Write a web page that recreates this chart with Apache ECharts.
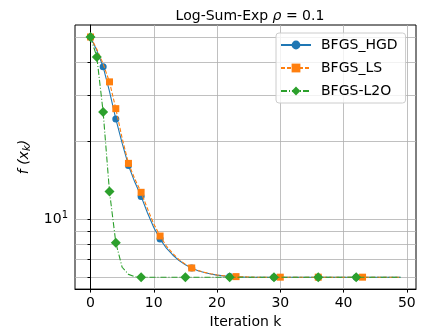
<!DOCTYPE html>
<html>
<head>
<meta charset="utf-8">
<script src="https://cdn.jsdelivr.net/npm/echarts@6/dist/echarts.min.js"></script>
<style>
  html, body { margin: 0; padding: 0; background: #fff; }
  #chart { width: 424px; height: 334px; }
</style>
</head>
<body>
<div id="chart"></div>
<script>
const FONT = "DejaVu Sans";

// iteration index 0..49
const iterations = Array.from({ length: 50 }, (_, i) => i);

// (log scale)
const hgdValues = [
  50.1, 44.5, 38.5, 31.0, 24.3, 19.6, 16.1, 13.9, 12.25, 10.6,
  9.3, 8.4, 7.75, 7.3, 6.95, 6.7, 6.5, 6.35, 6.25, 6.17,
  6.11, 6.07, 6.04, 6.02, 6.01, 6.0, 6.0, 6.0, 6.0, 6.0,
  6.0, 6.0, 6.0, 6.0, 6.0, 6.0, 6.0, 6.0, 6.0, 6.0,
  6.0, 6.0, 6.0, 6.0, 6.0, 6.0, 6.0, 6.0, 6.0, 6.0
];
const lsValues = [
  50.1, 45.0, 39.5, 33.7, 26.6, 20.5, 16.4, 14.3, 12.7, 11.0,
  9.6, 8.63, 7.9, 7.4, 7.0, 6.72, 6.51, 6.37, 6.26, 6.18,
  6.12, 6.08, 6.05, 6.03, 6.02, 6.01, 6.0, 6.0, 6.0, 6.0,
  6.0, 6.0, 6.0, 6.0, 6.0, 6.0, 6.0, 6.0, 6.0, 6.0,
  6.0, 6.0, 6.0, 6.0, 6.0, 6.0, 6.0, 6.0, 6.0, 6.0
];
const l2oValues = [
  50.1, 42.0, 25.8, 12.8, 8.14, 6.55, 6.15, 6.03, 6.0, 6.0,
  6.0, 6.0, 6.0, 6.0, 6.0, 6.0, 6.0, 6.0, 6.0, 6.0,
  6.0, 6.0, 6.0, 6.0, 6.0, 6.0, 6.0, 6.0, 6.0, 6.0,
  6.0, 6.0, 6.0, 6.0, 6.0, 6.0, 6.0, 6.0, 6.0, 6.0,
  6.0, 6.0, 6.0, 6.0, 6.0, 6.0, 6.0, 6.0, 6.0, 6.0
];

// which points carry a marker
const hgdMarks = [0, 2, 4, 6, 8, 11, 16, 22, 29, 36, 42];
const lsMarks = [0, 3, 4, 6, 8, 11, 16, 23, 30, 36, 43];
const l2oMarks = [0, 1, 2, 3, 4, 8, 15, 22, 29, 36, 42];

const xTicks = [0, 10, 20, 30, 40, 50];
const yGridValues = [6, 7, 8, 9, 10, 20, 30, 40, 50];
const yLabelValues = [10];

const chart = echarts.init(document.getElementById("chart"));

function points(values, marks, symbol) {
  return iterations.map((k, i) => ({
    value: [k, values[i]],
    symbol: marks.includes(i) ? symbol : "none"
  }));
}

const gridLine = { show: true, lineStyle: { color: "#b0b0b0", width: 0.8 } };

chart.setOption({
  animation: false,
  title: {
    text: "{a|Log-Sum-Exp }{b|ρ}{a| = 0.1}",
    left: 245,
    top: 4,
    textAlign: "center",
    textStyle: {
      fontWeight: "normal",
      rich: {
        a: { fontFamily: FONT, fontSize: 14, fontWeight: "normal", color: "#000" },
        b: { fontFamily: FONT, fontSize: 14, fontWeight: "normal", fontStyle: "italic", color: "#000" }
      }
    }
  },
  legend: {
    orient: "vertical",
    left: 276,
    top: 33,
    itemWidth: 30,
    itemHeight: 11,
    itemGap: 9,
    padding: [5, 8, 5, 4],
    backgroundColor: "rgba(255,255,255,0.8)",
    borderColor: "#cccccc",
    borderWidth: 1,
    borderRadius: 3,
    textStyle: { fontFamily: FONT, fontSize: 14, color: "#000", lineHeight: 14, padding: [0, 0, 0, 5] },
    data: ["BFGS_HGD", "BFGS_LS", "BFGS-L2O"]
  },
  grid: {
    left: 75, right: 8, top: 25, bottom: 40,
    show: true, borderColor: "#000", borderWidth: 1
  },
  xAxis: {
    type: "value",
    min: -2.45,
    max: 51.45,
    name: "Iteration k",
    nameLocation: "middle",
    nameGap: 24,
    nameTextStyle: { fontFamily: FONT, fontSize: 14, color: "#000" },
    axisLine: { show: true, onZero: false, lineStyle: { color: "#000", width: 1 } },
    axisTick: { show: true, inside: false, length: 3.5, customValues: xTicks, lineStyle: { color: "#000" } },
    axisLabel: { customValues: xTicks, margin: 7, fontFamily: FONT, fontSize: 14, color: "#000" },
    splitLine: gridLine
  },
  yAxis: {
    type: "log",
    logBase: 10,
    min: 5.40,
    max: 55.7,
    name: "{i|f (x}{s|k}{i|)}",
    nameLocation: "middle",
    nameGap: 43,
    nameRotate: 90,
    nameTextStyle: {
      rich: {
        i: { fontFamily: FONT, fontSize: 14, fontStyle: "italic", color: "#000" },
        s: { fontFamily: FONT, fontSize: 10, fontStyle: "italic", color: "#000", padding: [6, 0, 0, 0] }
      }
    },
    axisLine: { show: true, lineStyle: { color: "#000", width: 1 } },
    axisTick: { show: true, inside: false, length: 3, customValues: yGridValues, lineStyle: { color: "#000" } },
    axisLabel: {
      customValues: yLabelValues,
      margin: 7,
      formatter: () => "{b|10}{e|1}",
      rich: {
        b: { fontFamily: FONT, fontSize: 14, color: "#000" },
        e: { fontFamily: FONT, fontSize: 10, color: "#000", padding: [0, 0, 8, 0] }
      }
    },
    splitLine: gridLine
  },
  series: [
    {
      name: "BFGS_HGD",
      type: "line",
      data: points(hgdValues, hgdMarks, "circle"),
      symbol: "circle",
      symbolSize: 7,
      showAllSymbol: true,
      color: "#1f77b4",
      lineStyle: { width: 1.1, type: "solid" },
      z: 2
    },
    {
      name: "BFGS_LS",
      type: "line",
      data: points(lsValues, lsMarks, "rect"),
      symbol: "rect",
      symbolSize: 7,
      showAllSymbol: true,
      color: "#ff7f0e",
      lineStyle: { width: 1.1, type: [4, 2] },
      z: 3
    },
    {
      name: "BFGS-L2O",
      type: "line",
      data: points(l2oValues, l2oMarks, "diamond"),
      symbol: "diamond",
      symbolSize: 10,
      showAllSymbol: true,
      color: "#2ca02c",
      lineStyle: { width: 1.1, type: [6, 2, 1, 2] },
      z: 4
    }
  ]
});
</script>
</body>
</html>
